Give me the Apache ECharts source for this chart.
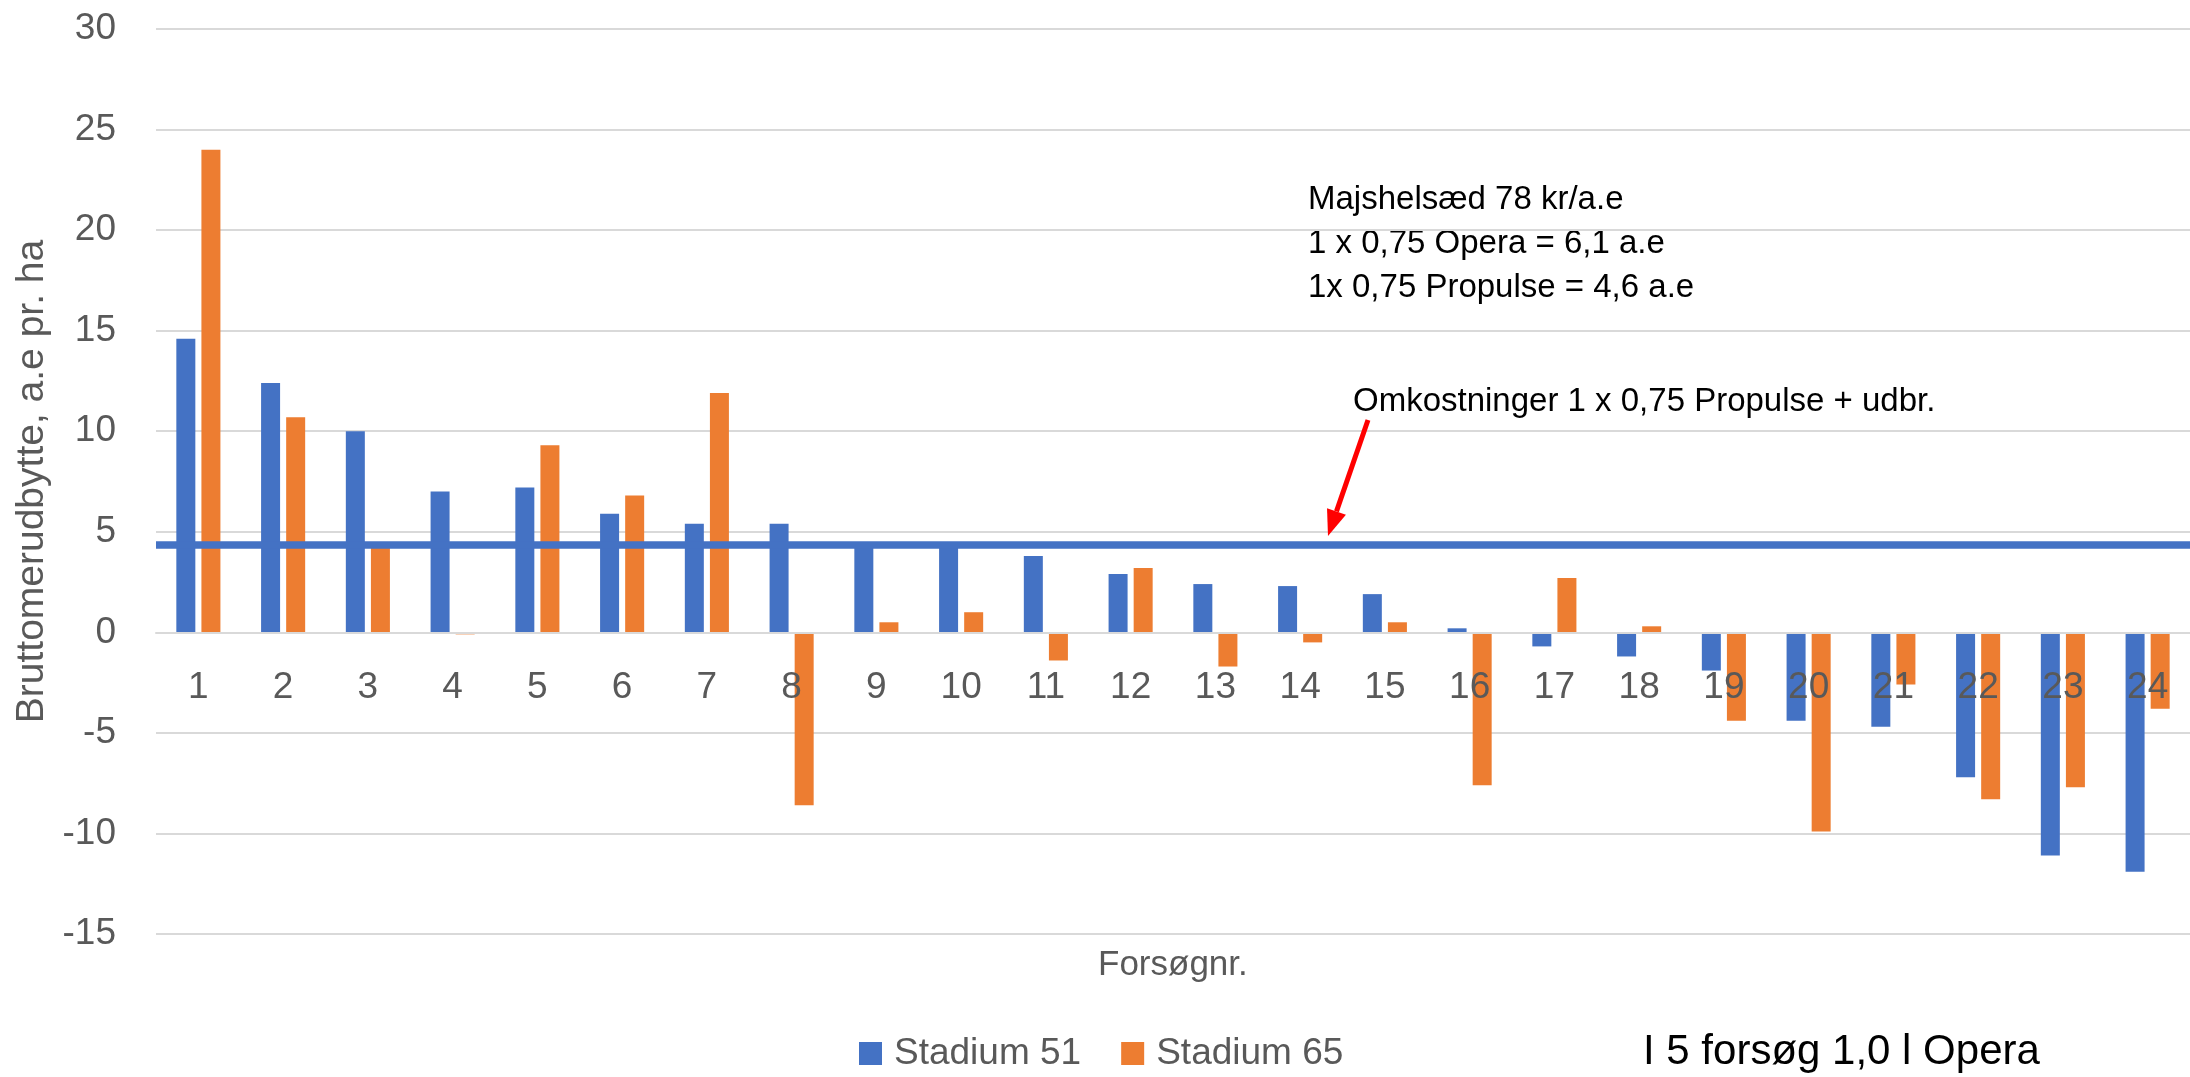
<!DOCTYPE html>
<html>
<head>
<meta charset="utf-8">
<script src="https://cdn.jsdelivr.net/npm/echarts@6/dist/echarts.min.js"></script>
<style>
  html, body { margin: 0; padding: 0; background: #fff; }
  #chart { width: 2190px; height: 1077px; }
</style>
</head>
<body>
<div id="chart"></div>
<script>
// forsøgsnumre
const categories = ['1', '2', '3', '4', '5', '6', '7', '8', '9', '10', '11', '12',
  '13', '14', '15', '16', '17', '18', '19', '20', '21', '22', '23', '24']
const stadium51 = [14.6, 12.4, 10.0, 7.0, 7.2, 5.9, 5.4, 5.4, 4.3, 4.3, 3.8, 2.9,
  2.4, 2.3, 1.9, 0.2, -0.7, -1.2, -1.9, -4.4, -4.7, -7.2, -11.1, -11.9]
const stadium65 = [24.0, 10.7, 4.2, -0.1, 9.3, 6.8, 11.9, -8.6, 0.5, 1.0, -1.4, 3.2,
  -1.7, -0.5, 0.5, -7.6, 2.7, 0.3, -4.4, -9.9, -2.6, -8.3, -7.7, -3.8]
const costLevel = 4.35
const yTicks = [-15, -10, -5, 0, 5, 10, 15, 20, 25, 30]
const noteLines = ['Majshelsæd 78 kr/a.e', '1 x 0,75 Opera = 6,1 a.e', '1x 0,75 Propulse = 4,6 a.e']
const costNote = 'Omkostninger 1 x 0,75 Propulse + udbr.'
const footNote = 'I 5 forsøg 1,0 l Opera'

const FONT = "'Liberation Sans', Arial, sans-serif"
const GREY = '#595959'

const gridTop = 29
const gridBottom = 143
const plotHeight = 1077 - gridTop - gridBottom
const yMin = yTicks[0]
const yMax = yTicks[yTicks.length - 1]
// x-aksen (kategorierne) ligger ved 0 ligesom i Excel
const zeroOffset = -plotHeight * (0 - yMin) / (yMax - yMin)

// pil fra teksten ned mod linjen
const arrowFrom = [1368, 420]
const arrowTo = [1328, 536]
function arrowHead(from, to, len, half) {
  const dx = to[0] - from[0]
  const dy = to[1] - from[1]
  const d = Math.sqrt(dx * dx + dy * dy)
  const ux = dx / d, uy = dy / d
  const bx = to[0] - ux * len, by = to[1] - uy * len
  return {
    base: [bx, by],
    points: [to, [bx - uy * half, by + ux * half], [bx + uy * half, by - ux * half]]
  }
}
const head = arrowHead(arrowFrom, arrowTo, 26, 10)

const chart = echarts.init(document.getElementById('chart'))

const option = {
  animation: false,
  grid: { left: 156, top: gridTop, width: 2038, bottom: gridBottom, containLabel: false },
  legend: {
    data: ['Stadium 51', 'Stadium 65'],
    left: 854,
    top: 1030,
    icon: 'rect',
    itemWidth: 23,
    itemHeight: 23,
    itemGap: 40,
    textStyle: { fontFamily: FONT, fontSize: 37, color: GREY, padding: [0, 0, 0, 7] }
  },
  xAxis: {
    type: 'category',
    data: categories,
    z: 5,
    offset: zeroOffset,
    axisTick: { show: false },
    axisLine: { onZero: false, lineStyle: { color: '#D9D9D9', width: 2 } },
    axisLabel: { fontFamily: FONT, fontSize: 37, color: GREY, margin: 37 }
  },
  yAxis: {
    type: 'value',
    min: yMin,
    max: yMax,
    interval: 5,
    name: 'Bruttomerudbytte, a.e pr. ha',
    nameLocation: 'middle',
    nameGap: 102,
    nameTextStyle: { fontFamily: FONT, fontSize: 39, color: GREY },
    axisLine: { show: false },
    axisTick: { show: false },
    axisLabel: { fontFamily: FONT, fontSize: 37, color: GREY, margin: 40 },
    splitLine: { lineStyle: { color: '#D9D9D9', width: 2 } }
  },
  series: [
    {
      name: 'Stadium 51',
      type: 'bar',
      data: stadium51,
      barWidth: 19,
      barGap: '32%',
      itemStyle: { color: '#4472C4' }
    },
    {
      name: 'Stadium 65',
      type: 'bar',
      data: stadium65,
      barWidth: 19,
      barGap: '32%',
      itemStyle: { color: '#ED7D31' },
      markLine: {
        silent: true,
        symbol: 'none',
        label: { show: false },
        lineStyle: { color: '#4472C4', width: 7.5, type: 'solid' },
        data: [{ yAxis: costLevel }]
      }
    }
  ],
  graphic: [
    ...noteLines.map((t, i) => ({
      type: 'text',
      left: 1308,
      top: 183 + i * 44,
      style: { text: t, font: `33px ${FONT}`, fill: '#000' }
    })),
    {
      type: 'text',
      left: 1353,
      top: 385,
      style: { text: costNote, font: `33px ${FONT}`, fill: '#000' }
    },
    {
      type: 'text',
      left: 1098,
      top: 948,
      style: { text: 'Forsøgnr.', font: `35px ${FONT}`, fill: GREY }
    },
    {
      type: 'text',
      left: 1643,
      top: 1031,
      style: { text: footNote, font: `42px ${FONT}`, fill: '#000' }
    },
    {
      type: 'line',
      z: 10,
      shape: { x1: arrowFrom[0], y1: arrowFrom[1], x2: head.base[0], y2: head.base[1] },
      style: { stroke: '#FF0000', lineWidth: 5 }
    },
    {
      type: 'polygon',
      z: 10,
      shape: { points: head.points },
      style: { fill: '#FF0000' }
    }
  ]
}

chart.setOption(option)
window.addEventListener('resize', () => chart.resize())
</script>
</body>
</html>
